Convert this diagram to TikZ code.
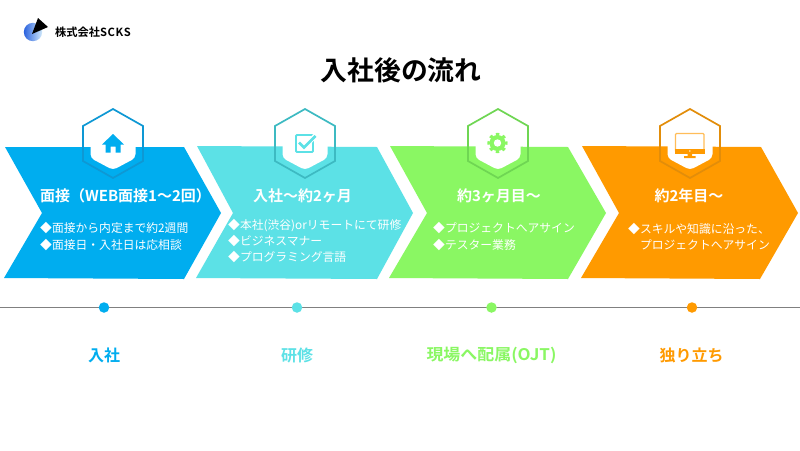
\documentclass[tikz,border=0pt]{standalone}
\usepackage{fontspec}
\usepackage{xcolor}
\usetikzlibrary{positioning, calc, shadings}

\setmainfont{Noto Sans CJK JP}
\newfontfamily\cjk[BoldFont={Noto Sans CJK JP Bold}]{Noto Sans CJK JP}

\definecolor{stepblue}{HTML}{00ADEF}
\definecolor{stepcyan}{HTML}{5CE1E6}
\definecolor{stepgreen}{HTML}{8AF763}
\definecolor{steporange}{HTML}{FF9A00}
\definecolor{hexblue}{HTML}{0E98D4}
\definecolor{hexcyan}{HTML}{3DBAC2}
\definecolor{hexgreen}{HTML}{6FD653}
\definecolor{hexorange}{HTML}{E28D0A}
\definecolor{logoblue}{HTML}{2A62DE}
\definecolor{logolight}{HTML}{D2EAFB}

\begin{document}
\begin{tikzpicture}[
        x=1pt, y=-1pt,
        % Styles
        chevron/.style={fill=#1, draw=none},
        hexline/.style={draw=#1, line width=1.7pt, line join=miter},
        hexfill/.style={fill=white, draw=none, rounded corners=4pt},
        headtext/.style={font=\cjk\bfseries\fontsize{15}{17}\selectfont, text=white, inner sep=0pt},
        bodytext/.style={font=\cjk\fontsize{11.8}{16.4}\selectfont, text=white, align=left,
                anchor=west, inner sep=0pt},
        steplabel/.style={font=\cjk\bfseries\fontsize{16}{18}\selectfont, text=#1, inner sep=0pt},
        stepdot/.style={circle, fill=#1, minimum size=10.5pt, inner sep=0pt}, ]

        \useasboundingbox (0,0) rectangle (800,450);
        \fill[white] (0,0) rectangle (800,450);

        % === LOGO ===
        \shade[left color=logoblue, right color=logolight] (33,32) circle (9.2);
        \fill[black] (38,18) -- (48,27) -- (32,34) -- cycle;
        \node[font=\cjk\bfseries\fontsize{11.2}{12}\selectfont, anchor=west, inner sep=0pt] (company) at (55,32) {株式会社{\addfontfeature{LetterSpace=6}SCKS}};

        % === TITLE ===
        \node[font=\cjk\bfseries\fontsize{26.8}{30}\selectfont, inner sep=0pt] (title) at (401,70) {入社後の流れ};

        % === CHEVRONS ===
        \fill[chevron=stepblue] (5,147) -- (184,147) -- (221,213) -- (184,279) -- (4,278) -- (42,213) -- cycle;
        \fill[chevron=stepcyan] (197,146) -- (377,147) -- (413,213) -- (377,279) -- (196,278) -- (233,213) -- cycle;
        \fill[chevron=stepgreen] (390,146) -- (568,147) -- (606,213) -- (568,279) -- (389,278) -- (427,213) -- cycle;
        \fill[chevron=steporange] (582,146) -- (761,147) -- (798,213) -- (760,279) -- (581,278) -- (619,213) -- cycle;

        % === HEXAGONS ===
        \fill[hexfill] (90.5,140) -- (90.5,158) -- (113,170) -- (135.5,158) -- (135.5,140) -- cycle;
        \draw[hexline=hexblue] (113,109) -- (143,126) -- (143,161) -- (113,178) -- (83,161) -- (83,126) -- cycle;

        \fill[hexfill] (282.5,140) -- (282.5,158) -- (305,170) -- (327.5,158) -- (327.5,140) -- cycle;
        \draw[hexline=hexcyan] (305,109) -- (335,126) -- (335,161) -- (305,178) -- (275,161) -- (275,126) -- cycle;

        \fill[hexfill] (475.5,140) -- (475.5,158) -- (498,170) -- (520.5,158) -- (520.5,140) -- cycle;
        \draw[hexline=hexgreen] (498,109) -- (528,126) -- (528,161) -- (498,178) -- (468,161) -- (468,126) -- cycle;

        \fill[hexfill] (667.5,140) -- (667.5,158) -- (690,170) -- (712.5,158) -- (712.5,140) -- cycle;
        \draw[hexline=hexorange] (690,109) -- (720,126) -- (720,161) -- (690,178) -- (660,161) -- (660,126) -- cycle;

        % === ICONS ===
        % house
        \fill[stepblue] (113,134) -- (124,144.5) -- (120.5,144.5) -- (120.5,152.5) -- (115.5,152.5) -- (115.5,146.5)
            -- (110.5,146.5) -- (110.5,152.5) -- (105.5,152.5) -- (105.5,144.5) -- (102,144.5) -- cycle;
        % check box
        \draw[stepcyan, line width=1.8pt, rounded corners=1pt] (296,135) rectangle (313,152);
        \draw[white, line width=5pt] (300,143) -- (304,147.5) -- (315,136);
        \draw[stepcyan, line width=2.6pt] (299,142.5) -- (304,147.5) -- (315.5,136);
        % gear
        \draw[stepgreen, line width=3.4pt, dash pattern=on 3.2pt off 3.45pt, dash phase=1.6pt] (497.5,143) circle (8.5);
        \fill[stepgreen] (497.5,143) circle (8);
        \fill[white] (497.5,143) circle (3.7);
        % monitor
        \draw[steporange!65, line width=1.2pt, rounded corners=1pt] (675.5,133.5) rectangle (704,152);
        \fill[steporange] (675,148.5) rectangle (704.5,153.5);
        \fill[white] (689.8,151) circle (0.8);
        \fill[steporange] (687.5,153.5) rectangle (692,156) (684,156) rectangle (695.5,158);

        % === CARD TEXT ===
        \node[headtext] (head1) at (125.5,196) {面接（WEB面接1〜2回）};
        \node[headtext] (head2) at (302.5,196) {入社〜約2ヶ月};
        \node[headtext] (head3) at (499,196) {約3ヶ月目〜};
        \node[headtext] (head4) at (689,196) {約2年目〜};

        \node[bodytext] (body1) at (40,236.5) {◆面接から内定まで約2週間\\◆面接日・入社日は応相談};
        \node[bodytext] (body2) at (228,241) {◆本社(渋谷)orリモートにて研修\\◆ビジネスマナー\\◆プログラミング言語};
        \node[bodytext] (body3) at (433,236.5) {◆プロジェクトへアサイン\\◆テスター業務};
        \node[bodytext] (body4) at (628,236.5) {◆スキルや知識に沿った、\\\hspace*{11.8pt}プロジェクトへアサイン};

        % === TIMELINE ===
        \coordinate (lineL) at (0,307.5);
        \coordinate (lineR) at (800,307.5);
        \draw[black!50, line width=1.4pt] (lineL) -- (lineR);

        \node[stepdot=stepblue] (dot1) at (104,307.5) {};
        \node[stepdot=stepcyan] (dot2) at (297,307.5) {};
        \node[stepdot=stepgreen] (dot3) at (491.5,307.5) {};
        \node[stepdot=steporange] (dot4) at (692,307.5) {};

        % Labels
        \node[steplabel=stepblue] (label1) at (104,355) {入社};
        \node[steplabel=stepcyan] (label2) at (297,355) {研修};
        \node[steplabel=stepgreen, xscale=1.06] (label3) at (491.5,355) {現場へ配属(OJT)};
        \node[steplabel=steporange] (label4) at (691.5,355) {独り立ち};

    \end{tikzpicture}
\end{document}
